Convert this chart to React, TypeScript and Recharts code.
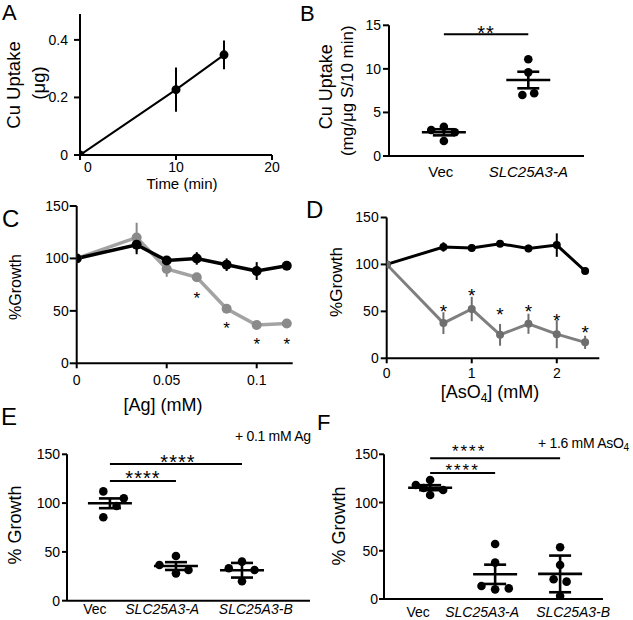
import React from 'react';
import {
  ComposedChart,
  Line,
  Scatter,
  XAxis,
  YAxis,
  ErrorBar,
  ReferenceLine,
  ReferenceDot,
  Label,
} from 'recharts';

const FONT = '"Liberation Sans", Arial, Helvetica, sans-serif';
const INK = '#000000';

// ---------------- Panel A: Cu uptake over time
const aTime = [0, 10, 15];
const aUptake = [0, 0.227, 0.348];
const aUptakeErr = [0, 0.077, 0.05];
const aXTicks = [0, 10, 20];
const aYTicks = [0, 0.2, 0.4];

// ---------------- Panel B: Cu uptake per strain
const bCategories = ['Vec', 'SLC25A3-A'];
const bVec = [2.98, 3.36, 2.72, 1.72];
const bVecJitter = [-0.15, 0, 0.13, 0];
const bSlcA = [11.1, 9.6, 7.0, 7.2];
const bSlcAJitter = [0, 0, -0.07, 0.07];
const bMeans = [2.72, 8.72];
const bSem = [0.35, 0.95];
const bYTicks = [0, 5, 10, 15];
const bSigBars = [{ x1: 0, x2: 1, y: 13.97 }];
const bSigMarks = [{ x: 0.5, y: 14.66, text: '**' }];

// ---------------- Panel C: growth vs [Ag]
const agConc = [0, 0.0333, 0.05, 0.0667, 0.0833, 0.1, 0.1167];
const agVec = [100, 113, 98, 100, 94, 88, 93];
const agVecErr = [0, 9, 3, 6, 6, 8.5, 3];
const agSlc = [100, 120, 90, 82, 52, 36.5, 38];
const agSlcErr = [0, 14, 7.5, 2, 2, 2, 2];
const agSigX = [0.0667, 0.0833, 0.1, 0.1167];
const agSigY = [65.5, 37.7, 22.4, 22.4];
const cXTicks = [0, 0.05, 0.1];
const growthTicks = [0, 50, 100, 150];

// ---------------- Panel D: growth vs [AsO4]
const asConc = [0, 0.667, 1, 1.333, 1.667, 2, 2.333];
const asVec = [100, 118.6, 117.5, 122, 117, 120.6, 93];
const asVecErr = [0, 5, 4, 2, 4, 12.5, 2];
const asSlc = [100, 37.5, 52.5, 25, 36.8, 25.7, 17];
const asSlcErr = [0, 11.6, 13, 11.6, 10.7, 15, 7];
const asSigX = [0.667, 1, 1.333, 1.667, 2, 2.333];
const asSigY = [54.6, 71.4, 51, 54.6, 45.4, 32.1];
const dXTicks = [0, 1, 2];

// ---------------- Panel E: + 0.1 mM Ag
const eCategories = ['Vec', 'SLC25A3-A', 'SLC25A3-B'];
const eVec = [112, 105, 97, 85.5];
const eVecJitter = [-0.1, 0.21, 0.1, -0.1];
const eSlcA = [45.8, 36.6, 28, 31.5];
const eSlcAJitter = [0, -0.25, 0, 0.19];
const eSlcB = [40, 33.2, 31.5, 20];
const eSlcBJitter = [0, -0.2, 0.19, 0];
const eMeans = [99.8, 35.5, 31.2];
const eErr = [5, 4, 7.5];
const eSigBars = [
  { x1: 0, x2: 2, y: 140 },
  { x1: 0, x2: 1, y: 122.6 },
];
const eSigMarks = [
  { x: 1.03, y: 146.5, text: '****' },
  { x: 0.5, y: 130.8, text: '****' },
];

// ---------------- Panel F: + 1.6 mM AsO4
const fCategories = ['Vec', 'SLC25A3-A', 'SLC25A3-B'];
const fVec = [118.2, 123.4, 113, 107.8, 115];
const fVecJitter = [-0.22, 0, 0.2, 0, -0.1];
const fSlcA = [57, 37.7, 13.5, 10, 11];
const fSlcAJitter = [0, 0, -0.21, 0, 0.21];
const fSlcB = [53.6, 35.3, 20.4, 18, 3];
const fSlcBJitter = [0, 0, -0.1, 0.1, 0];
const fMeans = [115.4, 25.6, 26];
const fErr = [2.6, 10, 19];
const fSigBars = [
  { x1: 0, x2: 2, y: 146 },
  { x1: 0, x2: 1, y: 130.6 },
];
const fSigMarks = [
  { x: 0.6, y: 157.6, text: '****' },
  { x: 0.5, y: 137.9, text: '****' },
];

// ---------------- tables built from the arrays above
const dots = (values: number[], jitter: number[], cat: number) =>
  values.map((v, i) => ({ x: cat + jitter[i], y: v }));
const summary = (means: number[], errs: number[]) =>
  means.map((m, i) => ({ x: i, y: m, err: errs[i] }));

const aData = aTime.map((t, i) => ({ x: t, y: aUptake[i], err: aUptakeErr[i] }));
const cData = agConc.map((x, i) => ({
  x,
  vec: agVec[i],
  vecErr: agVecErr[i],
  slc: agSlc[i],
  slcErr: agSlcErr[i],
}));
const dData = asConc.map((x, i) => ({
  x,
  vec: asVec[i],
  vecErr: asVecErr[i],
  slc: asSlc[i],
  slcErr: asSlcErr[i],
}));
const cMarks = agSigX.map((x, i) => ({ x, y: agSigY[i], text: '*' }));
const dMarks = asSigX.map((x, i) => ({ x, y: asSigY[i], text: '*' }));

// ---------------- shared styles
const axisLine = { stroke: INK, strokeWidth: 2 };
const tickLine = { stroke: INK, strokeWidth: 2 };
const tickStyle = { fill: INK, fontSize: 14, fontFamily: FONT };

const asteriskShape = (text: string, fs: number, ls: number) => (p: any) => (
  <text
    x={p.cx}
    y={p.cy + 0.58 * fs}
    textAnchor="middle"
    fontSize={fs}
    fontFamily={FONT}
    fill={INK}
    letterSpacing={text.length > 1 ? ls : 0}
  >
    {text}
  </text>
);

const vTitle = (lines: { text: string; x: number; y: number; fs: number }[]) => () => (
  <g>
    {lines.map((l, i) => (
      <text
        key={i}
        x={l.x}
        y={l.y}
        transform={`rotate(-90, ${l.x}, ${l.y})`}
        textAnchor="middle"
        dominantBaseline="central"
        fontSize={l.fs}
        fontFamily={FONT}
        fill={INK}
      >
        {l.text}
      </text>
    ))}
  </g>
);

type Bar = { x1: number; x2: number; y: number };
type Mark = { x: number; y: number; text: string };

type DotPanelProps = {
  left: number;
  top: number;
  width: number;
  height: number;
  margin: { top: number; right: number; bottom: number; left: number };
  xDomain: [number, number];
  categories: string[];
  labelShift: number[];
  catFontSize: number;
  catMargin: number;
  points: { x: number; y: number }[];
  stats: { x: number; y: number; err: number }[];
  yDomain: [number, number];
  yTicks: number[];
  yTickSize: number;
  yTickMargin: number;
  bars: Bar[];
  marks: Mark[];
  markSize: number;
  markSpacing: number;
  yTitle: () => React.ReactElement;
};

function DotPanel(props: DotPanelProps) {
  const {
    left, top, width, height, margin, xDomain, categories, labelShift, catFontSize, catMargin,
    points, stats, yDomain, yTicks, yTickSize, yTickMargin, bars, marks, markSize, markSpacing, yTitle,
  } = props;
  return (
    <div style={{ position: 'absolute', left, top }}>
      <ComposedChart width={width} height={height} margin={margin}>
        <XAxis
          type="number"
          dataKey="x"
          domain={xDomain}
          allowDataOverflow
          ticks={categories.map((_, i) => i)}
          interval={0}
          height={20}
          axisLine={axisLine}
          tickLine={false}
          tickSize={0}
          tickMargin={catMargin}
          tick={(p: any) => {
            const i = Math.round(p.payload.value);
            const name = categories[i];
            return (
              <text
                x={p.x + labelShift[i]}
                y={p.y}
                dy="0.71em"
                textAnchor="middle"
                fontSize={catFontSize}
                fontFamily={FONT}
                fontStyle={name.startsWith('SLC') ? 'italic' : 'normal'}
                fill={INK}
              >
                {name}
              </text>
            );
          }}
        />
        <YAxis
          type="number"
          domain={yDomain}
          allowDataOverflow
          ticks={yTicks}
          interval={0}
          width={40}
          axisLine={axisLine}
          tickLine={tickLine}
          tickSize={yTickSize}
          tickMargin={yTickMargin}
          tick={tickStyle}
        >
          <Label content={yTitle} />
        </YAxis>
        <Scatter
          data={points}
          dataKey="y"
          isAnimationActive={false}
          shape={(p: any) => <circle cx={p.cx} cy={p.cy} r={4.3} fill={INK} />}
        />
        <Scatter
          data={stats}
          dataKey="y"
          isAnimationActive={false}
          shape={(p: any) => (
            <line x1={p.cx - 22} x2={p.cx + 22} y1={p.cy} y2={p.cy} stroke={INK} strokeWidth={2.6} />
          )}
        >
          <ErrorBar dataKey="err" direction="y" width={11} stroke={INK} strokeWidth={2.6} />
        </Scatter>
        {bars.map((b, i) => (
          <ReferenceLine
            key={`bar${i}`}
            segment={[
              { x: b.x1, y: b.y },
              { x: b.x2, y: b.y },
            ]}
            stroke={INK}
            strokeWidth={2}
            ifOverflow="visible"
          />
        ))}
        {marks.map((m, i) => (
          <ReferenceDot
            key={`mark${i}`}
            x={m.x}
            y={m.y}
            ifOverflow="visible"
            shape={asteriskShape(m.text, markSize, markSpacing)}
          />
        ))}
      </ComposedChart>
    </div>
  );
}

export default function App() {
  return (
    <div
      style={{
        position: 'absolute',
        left: 0,
        top: 0,
        width: 633,
        height: 620,
        overflow: 'hidden',
        background: '#ffffff',
        fontFamily: FONT,
      }}
    >
      {/* Panel A */}
      <div style={{ position: 'absolute', left: 0, top: 0 }}>
        <ComposedChart width={316} height={200} data={aData} margin={{ top: 14, right: 44, bottom: 25, left: 40 }}>
          <XAxis
            type="number"
            dataKey="x"
            domain={[0, 20]}
            allowDataOverflow
            ticks={aXTicks}
            interval={0}
            height={20}
            axisLine={axisLine}
            tickLine={tickLine}
            tickSize={5}
            tickMargin={2}
            tick={(p: any) => (
              <text
                x={p.x + (p.payload.value === 0 ? 8 : 0)}
                y={p.y}
                dy="0.71em"
                textAnchor="middle"
                fontSize={14}
                fontFamily={FONT}
                fill={INK}
              >
                {p.payload.value}
              </text>
            )}
          >
            <Label
              content={() => (
                <text x={182} y={183} textAnchor="middle" dominantBaseline="central" fontSize={15} fontFamily={FONT} fill={INK}>
                  Time (min)
                </text>
              )}
            />
          </XAxis>
          <YAxis
            type="number"
            domain={[0, 0.49]}
            allowDataOverflow
            ticks={aYTicks}
            interval={0}
            width={40}
            axisLine={axisLine}
            tickLine={tickLine}
            tickSize={6}
            tickMargin={6}
            tick={tickStyle}
          >
            <Label
              content={vTitle([
                { text: 'Cu Uptake', x: 13, y: 85, fs: 18.5 },
                { text: '(μg)', x: 38, y: 83, fs: 18.5 },
              ])}
            />
          </YAxis>
          <Line
            type="linear"
            dataKey="y"
            stroke={INK}
            strokeWidth={2}
            dot={{ r: 4.5, fill: INK, stroke: INK, strokeWidth: 0 }}
            isAnimationActive={false}
          >
            <ErrorBar dataKey="err" direction="y" width={0} stroke={INK} strokeWidth={2} />
          </Line>
        </ComposedChart>
      </div>

      {/* Panel B */}
      <DotPanel
        left={316}
        top={0}
        width={317}
        height={200}
        margin={{ top: 25.3, right: 49, bottom: 24, left: 33 }}
        xDomain={[-0.65, 1.66]}
        categories={bCategories}
        labelShift={[-3, 0]}
        catFontSize={15}
        catMargin={10.6}
        points={[...dots(bVec, bVecJitter, 0), ...dots(bSlcA, bSlcAJitter, 1)]}
        stats={summary(bMeans, bSem)}
        yDomain={[0, 15]}
        yTicks={bYTicks}
        yTickSize={6}
        yTickMargin={2}
        bars={bSigBars}
        marks={bSigMarks}
        markSize={20}
        markSpacing={1}
        yTitle={vTitle([
          { text: 'Cu Uptake', x: 10, y: 86.7, fs: 18 },
          { text: '(mg/μg S/10 min)', x: 32, y: 90.7, fs: 17 },
        ])}
      />

      {/* Panel C */}
      <div style={{ position: 'absolute', left: 0, top: 190 }}>
        <ComposedChart width={316} height={225} data={cData} margin={{ top: 16, right: 23.3, bottom: 31.7, left: 36.7 }}>
          <XAxis
            type="number"
            dataKey="x"
            domain={[0, 0.12]}
            allowDataOverflow
            ticks={cXTicks}
            interval={0}
            height={20}
            axisLine={axisLine}
            tickLine={tickLine}
            tickSize={5}
            tickMargin={7}
            tick={tickStyle}
          >
            <Label
              content={() => (
                <text x={163} y={221} textAnchor="middle" fontSize={18} fontFamily={FONT} fill={INK}>
                  [Ag] (mM)
                </text>
              )}
            />
          </XAxis>
          <YAxis
            type="number"
            domain={[0, 150]}
            allowDataOverflow
            ticks={growthTicks}
            interval={0}
            width={40}
            axisLine={axisLine}
            tickLine={tickLine}
            tickSize={7}
            tickMargin={1}
            tick={tickStyle}
          >
            <Label content={vTitle([{ text: '%Growth', x: 15, y: 97, fs: 16 }])} />
          </YAxis>
          <Line
            type="linear"
            dataKey="slc"
            stroke="#a3a3a3"
            strokeWidth={3.5}
            dot={{ r: 5, fill: '#8a8a8a', stroke: '#8a8a8a', strokeWidth: 0 }}
            isAnimationActive={false}
          >
            <ErrorBar dataKey="slcErr" direction="y" width={0} stroke="#8a8a8a" strokeWidth={2} />
          </Line>
          <Line
            type="linear"
            dataKey="vec"
            stroke={INK}
            strokeWidth={3.5}
            dot={{ r: 5, fill: INK, stroke: INK, strokeWidth: 0 }}
            isAnimationActive={false}
          >
            <ErrorBar dataKey="vecErr" direction="y" width={0} stroke={INK} strokeWidth={2} />
          </Line>
          {cMarks.map((m, i) => (
            <ReferenceDot key={`c${i}`} x={m.x} y={m.y} ifOverflow="visible" shape={asteriskShape(m.text, 17, 0)} />
          ))}
        </ComposedChart>
      </div>

      {/* Panel D */}
      <div style={{ position: 'absolute', left: 316, top: 200 }}>
        <ComposedChart width={317} height={210} data={dData} margin={{ top: 17.5, right: 33.7, bottom: 31.7, left: 30.7 }}>
          <XAxis
            type="number"
            dataKey="x"
            domain={[0, 2.5]}
            allowDataOverflow
            ticks={dXTicks}
            interval={0}
            height={20}
            axisLine={axisLine}
            tickLine={tickLine}
            tickSize={5}
            tickMargin={4.7}
            tick={tickStyle}
          >
            <Label
              content={() => (
                <text x={174} y={198} textAnchor="middle" fontSize={18} fontFamily={FONT} fill={INK}>
                  <tspan>[AsO</tspan>
                  <tspan dy={4} fontSize={12}>4</tspan>
                  <tspan dy={-4}>] (mM)</tspan>
                </text>
              )}
            />
          </XAxis>
          <YAxis
            type="number"
            domain={[0, 150]}
            allowDataOverflow
            ticks={growthTicks}
            interval={0}
            width={40}
            axisLine={axisLine}
            tickLine={tickLine}
            tickSize={6}
            tickMargin={2}
            tick={tickStyle}
          >
            <Label content={vTitle([{ text: '%Growth', x: 20, y: 82, fs: 17 }])} />
          </YAxis>
          <Line
            type="linear"
            dataKey="vec"
            stroke={INK}
            strokeWidth={3}
            dot={{ r: 4, fill: INK, stroke: INK, strokeWidth: 0 }}
            isAnimationActive={false}
          >
            <ErrorBar dataKey="vecErr" direction="y" width={0} stroke={INK} strokeWidth={2} />
          </Line>
          <Line
            type="linear"
            dataKey="slc"
            stroke="#7f7f7f"
            strokeWidth={3}
            dot={{ r: 4, fill: '#6e6e6e', stroke: '#6e6e6e', strokeWidth: 0 }}
            isAnimationActive={false}
          >
            <ErrorBar dataKey="slcErr" direction="y" width={0} stroke="#6e6e6e" strokeWidth={2} />
          </Line>
          {dMarks.map((m, i) => (
            <ReferenceDot key={`d${i}`} x={m.x} y={m.y} ifOverflow="visible" shape={asteriskShape(m.text, 19, 0)} />
          ))}
        </ComposedChart>
      </div>

      {/* Panel E */}
      <DotPanel
        left={0}
        top={410}
        width={316}
        height={230}
        margin={{ top: 44.3, right: 6, bottom: 19.3, left: 27 }}
        xDomain={[-0.65, 3.03]}
        categories={eCategories}
        labelShift={[-15, -13.7, 13.8]}
        catFontSize={14}
        catMargin={3}
        points={[
          ...dots(eVec, eVecJitter, 0),
          ...dots(eSlcA, eSlcAJitter, 1),
          ...dots(eSlcB, eSlcBJitter, 2),
        ]}
        stats={summary(eMeans, eErr)}
        yDomain={[0, 150]}
        yTicks={growthTicks}
        yTickSize={5}
        yTickMargin={2}
        bars={eSigBars}
        marks={eSigMarks}
        markSize={20}
        markSpacing={1}
        yTitle={vTitle([{ text: '% Growth', x: 15, y: 115, fs: 18 }])}
      />

      {/* Panel F */}
      <DotPanel
        left={316}
        top={410}
        width={317}
        height={230}
        margin={{ top: 44.3, right: 30, bottom: 21, left: 28 }}
        xDomain={[-0.71, 2.66]}
        categories={fCategories}
        labelShift={[-12, -13, 13]}
        catFontSize={14}
        catMargin={7.7}
        points={[
          ...dots(fVec, fVecJitter, 0),
          ...dots(fSlcA, fSlcAJitter, 1),
          ...dots(fSlcB, fSlcBJitter, 2),
        ]}
        stats={summary(fMeans, fErr)}
        yDomain={[0, 150]}
        yTicks={growthTicks}
        yTickSize={5}
        yTickMargin={1}
        bars={fSigBars}
        marks={fSigMarks}
        markSize={17}
        markSpacing={2}
        yTitle={vTitle([{ text: '% Growth', x: 23, y: 116, fs: 18 }])}
      />

      {/* panel letters and condition notes */}
      <svg
        width={633}
        height={620}
        style={{ position: 'absolute', left: 0, top: 0, pointerEvents: 'none' }}
        fontFamily={FONT}
      >
        <text x={2} y={20} fontSize={22} fill={INK}>A</text>
        <text x={300} y={21} fontSize={22} fill={INK}>B</text>
        <text x={2} y={227} fontSize={24} fill={INK}>C</text>
        <text x={306} y={218} fontSize={24} fill={INK}>D</text>
        <text x={1} y={425} fontSize={24} fill={INK}>E</text>
        <text x={317} y={430} fontSize={22} fill={INK}>F</text>
        <text x={235} y={441} fontSize={14} letterSpacing={-0.3} fill={INK}>+ 0.1 mM Ag</text>
        <text x={538} y={448} fontSize={14} letterSpacing={-0.3} fill={INK}>
          <tspan>+ 1.6 mM AsO</tspan>
          <tspan dy={3} fontSize={10}>4</tspan>
        </text>
      </svg>
    </div>
  );
}
